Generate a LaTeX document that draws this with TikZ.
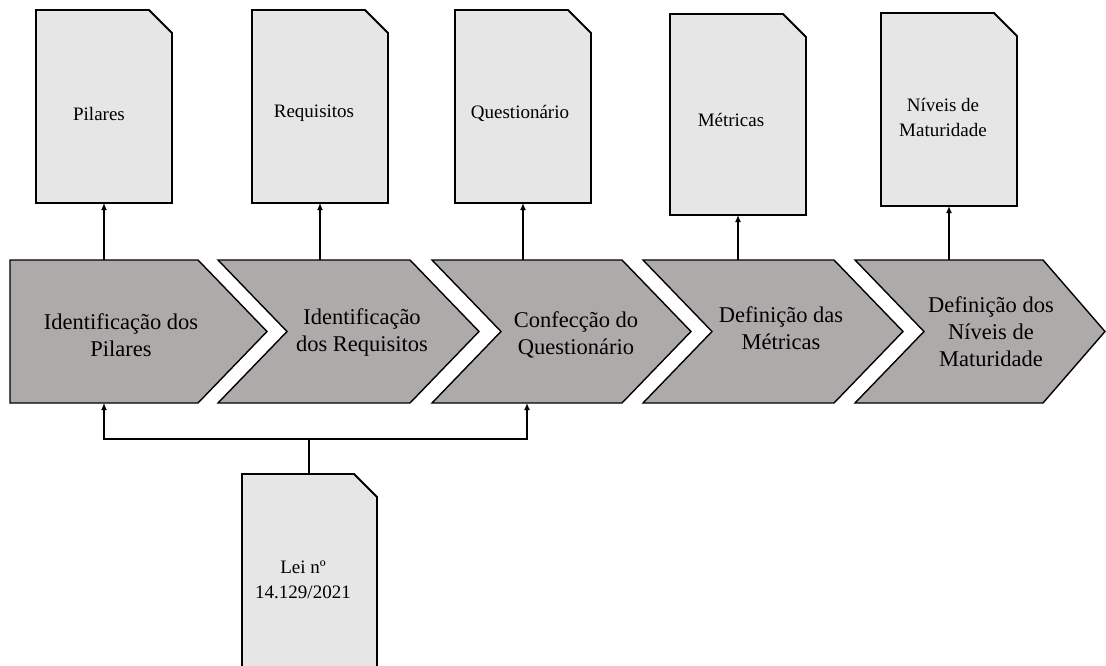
\documentclass[tikz,border=0pt]{standalone}
\usepackage{fontspec}
\setmainfont{Liberation Serif}
\usetikzlibrary{arrows.meta}
\definecolor{docgray}{RGB}{231,230,230}
\definecolor{chevgray}{RGB}{174,170,170}
\begin{document}
\begin{tikzpicture}[x=1pt,y=-1pt,
  frame/.style={draw=none, fill=none, inner sep=0pt, outer sep=0pt},
  docshape/.style={draw=black, line width=1.8pt, fill=docgray, line join=miter},
  chevshape/.style={draw=black, line width=1.4pt, fill=chevgray, line join=miter},
  doclabel/.style={align=center, font=\fontsize{19}{25}\selectfont, inner sep=0pt},
  chevlabel/.style={align=center, font=\fontsize{22.5}{27}\selectfont, inner sep=0pt},
  wire/.style={line width=1.6pt},
  link/.style={line width=1.6pt, -{Latex[length=7pt,width=6pt]}},
]
\useasboundingbox (0,0) rectangle (1106,666);
\clip (0,0) rectangle (1106,666);

% document frames
\node[frame, minimum width=136pt, minimum height=193pt] (d1) at (104,106.5) {};
\node[frame, minimum width=136pt, minimum height=193pt] (d2) at (320,106.5) {};
\node[frame, minimum width=136pt, minimum height=193pt] (d3) at (523,106.5) {};
\node[frame, minimum width=136pt, minimum height=201pt] (d4) at (738,114.5) {};
\node[frame, minimum width=136pt, minimum height=193pt] (d5) at (949,109.5) {};
\node[frame, minimum width=135pt, minimum height=226pt] (lei) at (309.5,587) {};

\foreach \d in {d1,d2,d3,d4,d5,lei}{
  \draw[docshape] (\d.south west) -- (\d.north west) -- ([xshift=-23pt]\d.north east)
    -- ([yshift=-23pt]\d.north east) -- (\d.south east) -- cycle;
}

% chevron frames
\node[frame, minimum width=188pt, minimum height=143pt] (c1) at (104,331.5) {};
\node[frame, minimum width=192pt, minimum height=143pt] (c2) at (314,331.5) {};
\node[frame, minimum width=190pt, minimum height=143pt] (c3) at (527,331.5) {};
\node[frame, minimum width=191pt, minimum height=143pt] (c4) at (738.5,331.5) {};
\node[frame, minimum width=188pt, minimum height=143pt] (c5) at (949,331.5) {};

\draw[chevshape] (c1.north west) -- (c1.north east) -- ([xshift=69pt]c1.east)
  -- (c1.south east) -- (c1.south west) -- cycle;
\foreach \c in {c2,c3,c4}{
  \draw[chevshape] (\c.north west) -- (\c.north east) -- ([xshift=69pt]\c.east)
    -- (\c.south east) -- (\c.south west) -- ([xshift=69pt]\c.west) -- cycle;
}
\draw[chevshape] (c5.north west) -- (c5.north east) -- ([xshift=62pt]c5.east)
  -- (c5.south east) -- (c5.south west) -- ([xshift=69pt]c5.west) -- cycle;

% labels
\node[doclabel] (t1) at (99,114) {Pilares};
\node[doclabel] (t2) at (314,113) {Requisitos};
\node[doclabel] (t3) at (520,113) {Questionário};
\node[doclabel] (t4) at (731,120) {Métricas};
\node[doclabel] (t5) at (943,117.5) {Níveis de\\Maturidade};
\node[doclabel] (t6) at (303,580) {Lei nº\\14.129/2021};

\node[chevlabel] (l1) at (121,335) {Identificação dos\\Pilares};
\node[chevlabel] (l2) at (362,332) {Identificação\\dos Requisitos};
\node[chevlabel] (l3) at (576,335) {Confecção do\\Questionário};
\node[chevlabel] (l4) at (781,328) {Definição das\\Métricas};
\node[chevlabel] (l5) at (991,332) {Definição dos\\Níveis de\\Maturidade};

% connectors up to documents
\foreach \c/\d in {c1/d1,c2/d2,c3/d3,c4/d4,c5/d5}{
  \draw[link] (\d.south |- \c.north) -- (\d.south);
}

% law document feeding steps 1 and 3
\coordinate (j) at (309,439);
\draw[wire] (lei.north -| j) -- (j);
\draw[link] (j) -| (c1.south);
\draw[link] (j) -| (c3.south);
\end{tikzpicture}
\end{document}
